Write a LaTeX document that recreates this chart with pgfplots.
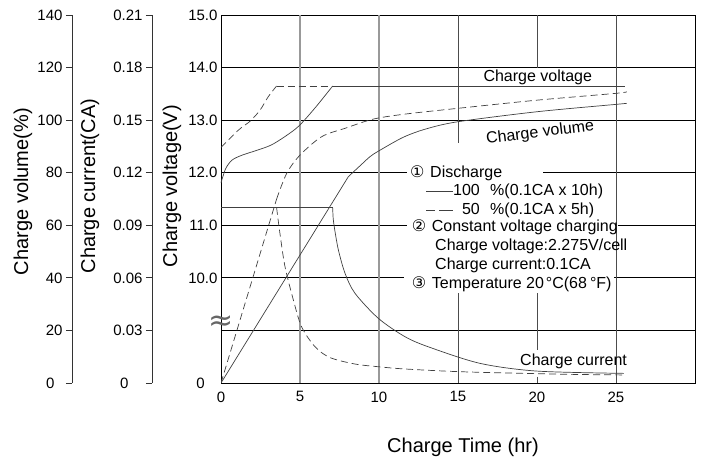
\documentclass[border=0pt]{standalone}
\usepackage{fontspec}
\setmainfont{Liberation Sans}
\newfontfamily\symfont{DejaVu Sans}
\usepackage{pgfplots}
\pgfplotsset{compat=1.18}

\newcommand{\fs}[1]{\fontsize{#1}{#1}\selectfont}

\pgfplotsset{
  curve/.style={black!75, line width=0.7pt, no marks},
  dcurve/.style={curve, dash pattern=on 7pt off 4pt},
  overlay axis/.style={at={(221pt,-383pt)}, anchor=south west,
    scale only axis, width=474pt, height=368pt,
    xmin=0, xmax=30, hide axis},
  ruler/.style={anchor=south west, scale only axis, width=10pt, height=368pt,
    xmin=0, xmax=1, hide x axis, axis y line*=left,
    tick align=outside, major tick length=6pt,
    y axis line style={line width=0.8pt, black!80},
    every tick/.style={line width=0.8pt, black!80},
    tick label style={font=\fs{15}},
    ylabel style={font=\fs{20}, anchor=center}},
}

\begin{document}
\begin{tikzpicture}
\path[use as bounding box] (0pt,0pt) rectangle (702pt,-461pt);

% charge volume scale
\begin{axis}[ruler, at={(72pt,-383pt)},
  ymin=0, ymax=140,
  ytick={20,40,...,140}, yticklabels={20,40,60,80,100,120,140},
  extra y ticks={0}, extra y tick labels={0},
  extra y tick style={yticklabel style={xshift=-8pt}},
  ylabel={Charge volume(\%)},
  ylabel style={at={(axis description cs:-4.9,0.52)}}]
\end{axis}

% charge current scale
\begin{axis}[ruler, at={(152pt,-383pt)},
  ymin=0, ymax=0.21,
  ytick={0.03,0.06,0.09,0.12,0.15,0.18,0.21},
  yticklabels={0.03,0.06,0.09,0.12,0.15,0.18,0.21},
  extra y ticks={0}, extra y tick labels={0},
  extra y tick style={yticklabel style={xshift=-14pt}},
  ylabel={Charge current(CA)},
  ylabel style={at={(axis description cs:-6.2,0.535)}}]
\end{axis}

% charge voltage (main axis)
\begin{axis}[at={(221pt,-383pt)}, anchor=south west,
  scale only axis, width=474pt, height=368pt,
  xmin=0, xmax=30, ymin=8, ymax=15,
  xtick={0,5,10,15,20,25}, xticklabels={0,5,10,15,20,25},
  xticklabel style={yshift=-5pt},
  ytick={10,11,12,13,14,15},
  yticklabels={10.0,11.0,12.0,13.0,14.0,15.0},
  extra y ticks={8}, extra y tick labels={0},
  extra y tick style={yticklabel style={xshift=-12.7pt}},
  major tick length=0pt,
  axis line style={line width=0.9pt, black},
  tick label style={font=\fs{15}},
  ylabel={Charge voltage(V)},
  ylabel style={font=\fs{20}, at={(axis description cs:-0.1034,0.535)}, anchor=center},
  xlabel={Charge Time (hr)},
  xlabel style={font=\fs{20}, at={(axis description cs:0.5105,-0.174)}, anchor=center},
  clip=false]
  % grid, broken around the notes
  \draw[black, line width=0.9pt] (0,14) -- (30,14);
  \draw[black, line width=0.9pt] (0,13) -- (30,13);
  \draw[black, line width=0.9pt] (0,12) -- (11.75,12) (20.4,12) -- (30,12);
  \draw[black, line width=0.9pt] (0,11) -- (11.75,11) (25.1,11) -- (30,11);
  \draw[black, line width=0.9pt] (0,10) -- (11.6,10) (24.9,10) -- (30,10);
  \draw[black, line width=0.9pt] (0,9) -- (30,9);
  \draw[black!40, line width=1.6pt] (5,8) -- (5,15) (10,8) -- (10,15);
  \draw[black!70, line width=0.8pt] (15,15) -- (15,12.56) (15,9.71) -- (15,8);
  \draw[black!70, line width=0.8pt] (20,15) -- (20,14) (20,9.71) -- (20,8.63) (20,8.12) -- (20,8);
  \draw[black!70, line width=0.8pt] (25,8) -- (25,15);

  % 100 % discharge
  \addplot[curve, smooth] coordinates {
    (0,11.81) (0.3,12.08) (0.7,12.24) (1.3,12.33) (2.2,12.42) (3.2,12.53)
    (4.3,12.74) (5.0,12.91) (6.0,13.25) (7.07,13.65)};
  \addplot[curve] coordinates {(7.07,13.65) (25.6,13.65)};
  % 50 % discharge
  \addplot[dcurve, smooth] coordinates {
    (0,12.48) (1.1,12.81) (1.84,12.98) (2.47,13.19) (3.0,13.45) (3.52,13.65)};
  \addplot[dcurve] coordinates {(3.52,13.65) (7.07,13.65)};
\end{axis}

% charge volume curves
\begin{axis}[overlay axis, ymin=0, ymax=140]
  \addplot[curve] coordinates {(0,0) (8.06,78.5)};
  \addplot[curve, smooth] coordinates {
    (8.06,78.5) (8.9,83.2) (9.43,86.1) (9.96,88.2) (11.54,93.5) (13,96.7)
    (15,99.4) (20,103.2) (25,106) (25.68,106.4)};
  \addplot[dcurve] coordinates {(0,0) (3.52,70)};
  \addplot[dcurve, smooth] coordinates {
    (3.52,70) (4.16,79.8) (5,86.7) (6.37,93.7) (7.85,96.9) (9.64,100.4)
    (11.65,102.3) (15,104.5) (20,107.6) (25,110.2) (25.68,110.8)};
\end{axis}

% charge current curves
\begin{axis}[overlay axis, ymin=0, ymax=0.21]
  \addplot[curve] coordinates {(0,0.1) (7.07,0.1)};
  \addplot[curve, smooth] coordinates {
    (7.07,0.1) (7.1,0.094) (7.2,0.0873) (7.43,0.0759) (7.85,0.0626) (8.48,0.0512)
    (9.96,0.0369) (11.65,0.0264) (13.2,0.0204) (16.4,0.0112) (20,0.0068) (25.5,0.0055)};
  \addplot[dcurve, smooth] coordinates {
    (3.52,0.1) (3.73,0.0854) (4.05,0.0664) (4.58,0.0474) (5.1,0.0321) (5.95,0.0207)
    (6.9,0.0145) (8.5,0.0108) (10.06,0.0092) (11.65,0.008) (15.3,0.0064)
    (21.7,0.005) (25.6,0.0046)};
\end{axis}

% axis break mark
\node[black!60, inner sep=0pt] at (221pt,-323pt) {\symfont\fs{30}≈};

% curve names
\node[anchor=base west, font=\fs{16}] at (480pt,-81.7pt) {Charge voltage};
\node[anchor=base west, font=\fs{16}, rotate=7] at (483.3pt,-144.3pt) {Charge volume};
\node[anchor=base west, font=\fs{16}] at (516.7pt,-365pt) {Charge current};

% notes
\begin{scope}[every node/.style={font=\fs{16}, inner sep=0pt}]
  \node[anchor=base west] at (410pt,-177.3pt) {\symfont ①};
  \node[anchor=base west] at (430pt,-177.3pt) {Discharge};
  \draw[black!75, line width=0.75pt] (426pt,-191pt) -- (452.7pt,-191pt);
  \node[anchor=base east] at (480pt,-195pt) {100};
  \node[anchor=base west] at (490pt,-195pt) {\%(0.1CA x 10h)};
  \draw[black!75, line width=0.75pt] (426pt,-210pt) -- (435pt,-210pt) (439.3pt,-210pt) -- (452.7pt,-210pt);
  \node[anchor=base east] at (480pt,-214pt) {50};
  \node[anchor=base west] at (490pt,-214pt) {\%(0.1CA x 5h)};
  \node[anchor=base west] at (411.7pt,-231.7pt) {\symfont ②};
  \node[anchor=base west] at (431.7pt,-231.7pt) {Constant voltage charging};
  \node[anchor=base west] at (435pt,-250.7pt) {Charge voltage:2.275V/cell};
  \node[anchor=base west] at (435pt,-269.3pt) {Charge current:0.1CA};
  \node[anchor=base west] at (411.7pt,-288.3pt) {\symfont ③};
  \node[anchor=base west] at (431.7pt,-288.3pt) {Temperature 20\kern2pt°C(68\kern3pt°F)};
\end{scope}
\end{tikzpicture}
\end{document}
